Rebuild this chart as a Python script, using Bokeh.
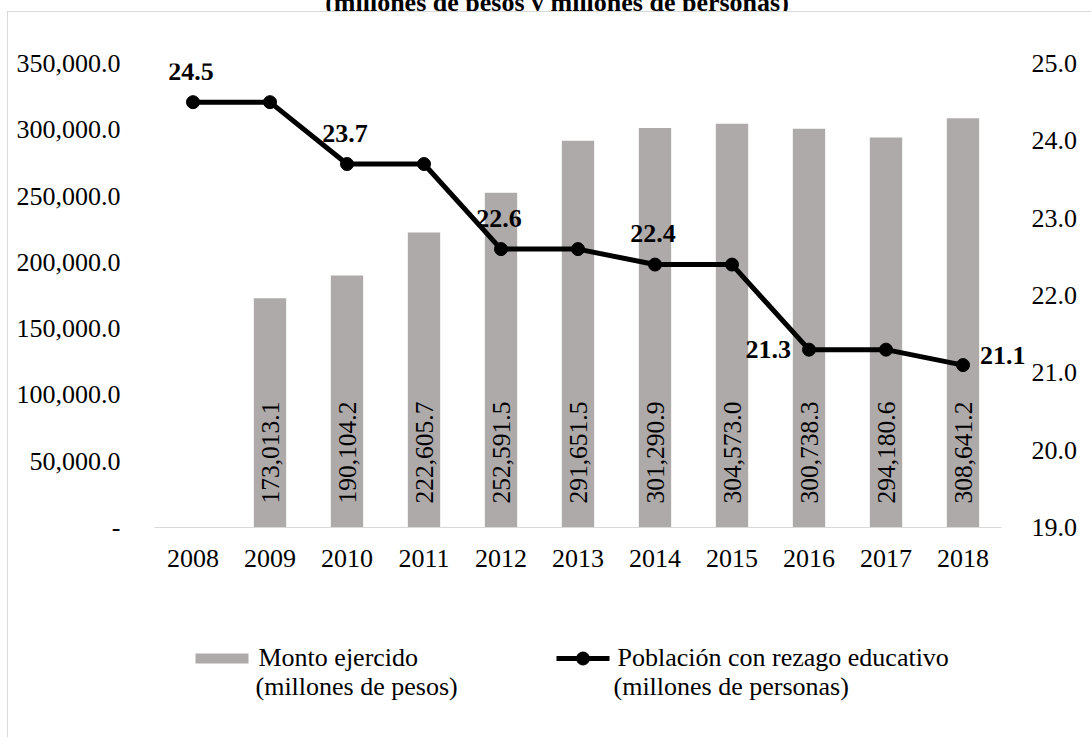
from bokeh.plotting import figure
from bokeh.models import (Range1d, LinearAxis, FixedTicker, NumeralTickFormatter,
                          ColumnDataSource, LabelSet, Div, Spacer)
from bokeh.layouts import column, row
from bokeh.core.properties import value
from bokeh.embed import file_html
from bokeh.resources import INLINE
import math

# ---- data ----
years = [2008, 2009, 2010, 2011, 2012, 2013, 2014, 2015, 2016, 2017, 2018]
bar_years = [2009, 2010, 2011, 2012, 2013, 2014, 2015, 2016, 2017, 2018]
monto = [173013.1, 190104.2, 222605.7, 252591.5, 291651.5, 301290.9, 304573.0, 300738.3, 294180.6, 308641.2]
poblacion = [24.5, 24.5, 23.7, 23.7, 22.6, 22.6, 22.4, 22.4, 21.3, 21.3, 21.1]
left_ticks = [0, 50000, 100000, 150000, 200000, 250000, 300000, 350000]
right_ticks = [19, 20, 21, 22, 23, 24, 25]
labels_above = [2008, 2010, 2012, 2014]
labels_left = [2016]
labels_right = [2018]

title_text = "(millones de pesos y millones de personas)"
legend_bar = ["Monto ejercido", "(millones de pesos)"]
legend_line = ["Población con rezago educativo", "(millones de personas)"]

FONT = "Liberation Serif"
FS = "26px"
BAR_COLOR = "#AEAAAA"
AXIS_COLOR = "#D9D9D9"

W, H = 1092, 738
OX, OY = 8, 12            # body origin on the page (border drawn 1px outside)
SPLIT = 600               # page y where legend strip starts
FL, FR, FT, FB = 154, 1025, 63, 527   # frame edges on the page

# ---------------- title strip ----------------
title_div = Div(
    text=(f'<div style="position:relative; top:-10px; width:{W}px; padding-left:22px; '
          f'box-sizing:border-box; text-align:center; white-space:nowrap; '
          f'font-family:\'{FONT}\'; font-weight:bold; font-size:{FS}; line-height:25px; '
          f'color:black;">{title_text}</div>'),
    width=W, height=OY, margin=0, styles={"overflow": "hidden"})

# ---------------- main chart ----------------
mw, mh = W - OX, SPLIT - OY
px_per_year = 77.0
x_end = years[0] - 0.5 + (FR - FL) / px_per_year
p = figure(width=mw, height=mh, x_range=Range1d(years[0] - 0.5, x_end),
           y_range=Range1d(0, 350000), output_backend="svg", toolbar_location=None,
           min_border_left=FL - OX, min_border_right=W - FR,
           min_border_top=FT - OY, min_border_bottom=SPLIT - FB, margin=0)
p.extra_y_ranges = {"right": Range1d(19, 25)}
p.outline_line_color = None
p.xgrid.visible = False
p.ygrid.visible = False
p.background_fill_color = "white"
p.border_fill_color = "white"

xa = p.xaxis[0]
xa.ticker = FixedTicker(ticks=years)
xa.formatter = NumeralTickFormatter(format="0")
xa.bounds = (years[0] - 0.5, years[-1] + 0.5)
xa.axis_line_color = AXIS_COLOR
xa.major_tick_line_color = None
xa.minor_tick_line_color = None
xa.major_label_text_font = FONT
xa.major_label_text_font_size = FS
xa.major_label_text_color = "black"
xa.major_label_standoff = 16

ya = p.yaxis[0]
ya.ticker = FixedTicker(ticks=left_ticks)
ya.formatter = NumeralTickFormatter(format="0,0.0")
ya.major_label_overrides = {0: "-"}
ya.axis_line_color = None
ya.major_tick_line_color = None
ya.minor_tick_line_color = None
ya.major_label_text_font = FONT
ya.major_label_text_font_size = FS
ya.major_label_text_color = "black"
ya.major_label_standoff = 28

ra = LinearAxis(y_range_name="right", ticker=FixedTicker(ticks=right_ticks),
                formatter=NumeralTickFormatter(format="0.0"))
ra.axis_line_color = None
ra.major_tick_line_color = None
ra.minor_tick_line_color = None
ra.major_label_text_font = FONT
ra.major_label_text_font_size = FS
ra.major_label_text_color = "black"
ra.major_label_standoff = 0
p.add_layout(ra, "right")

bar_src = ColumnDataSource(dict(x=bar_years, top=monto,
                                lbl=[f"{v:,.1f}" for v in monto],
                                base=[0] * len(monto)))
p.vbar(x="x", top="top", width=0.42, source=bar_src, fill_color=BAR_COLOR, line_color=None)
p.text(x="x", y="base", text="lbl", source=bar_src, angle=math.pi / 2, y_offset=-24,
       text_align="left", text_baseline="middle", text_font=value(FONT),
       text_font_size="25.5px", text_color="black")

line_src = ColumnDataSource(dict(x=years, y=poblacion))
p.line(x="x", y="y", source=line_src, y_range_name="right", line_color="black", line_width=5)
p.scatter(x="x", y="y", source=line_src, y_range_name="right", size=13,
          fill_color="black", line_color="black")

pmap = dict(zip(years, poblacion))


def add_labels(sel, align, xo, yo):
    src = ColumnDataSource(dict(x=sel, y=[pmap[s] for s in sel],
                                t=[f"{pmap[s]:.1f}" for s in sel]))
    p.add_layout(LabelSet(x="x", y="y", text="t", source=src, y_range_name="right",
                          x_offset=xo, y_offset=yo, text_align=align, text_baseline="middle",
                          text_font=value(FONT), text_font_size=FS, text_font_style="bold",
                          text_color="black"))


add_labels(labels_above, "center", -2, 31)
add_labels(labels_left, "right", -18, 0)
add_labels(labels_right, "left", 17, 10)

# ---------------- legend strip (page coordinates; frame aligned with main frame) ----------------
lg = figure(width=mw, height=H - SPLIT, x_range=Range1d(FL, FR), y_range=Range1d(H, SPLIT),
            output_backend="svg", toolbar_location=None, x_axis_type=None, y_axis_type=None,
            min_border_left=FL - OX, min_border_right=W - FR, min_border_top=0,
            min_border_bottom=0, margin=0)
lg.outline_line_color = None
lg.xgrid.visible = False
lg.ygrid.visible = False
lg.background_fill_color = "white"
lg.border_fill_color = "white"

lg.quad(left=[195], right=[248], top=[653], bottom=[663], fill_color=BAR_COLOR, line_color=None)
lg.segment(x0=[556], x1=[609], y0=[658], y1=[658], line_color="black", line_width=5)
lg.scatter(x=[582.5], y=[658], size=13, fill_color="black", line_color="black")
lg.text(x=[258, 255, 617, 613], y=[657, 686, 657, 686],
        text=[legend_bar[0], legend_bar[1], legend_line[0], legend_line[1]],
        text_align="left", text_baseline="middle", text_font=value(FONT),
        text_font_size=FS, text_color="black")

body = column(p, lg, spacing=0, margin=0,
              styles={"box-shadow": f"-1px -1px 0 {AXIS_COLOR}"})
root = column(title_div, row(Spacer(width=OX, height=H - OY, margin=0), body, spacing=0, margin=0),
              spacing=0, margin=0)

open("out.html", "w").write(file_html(root, INLINE))
